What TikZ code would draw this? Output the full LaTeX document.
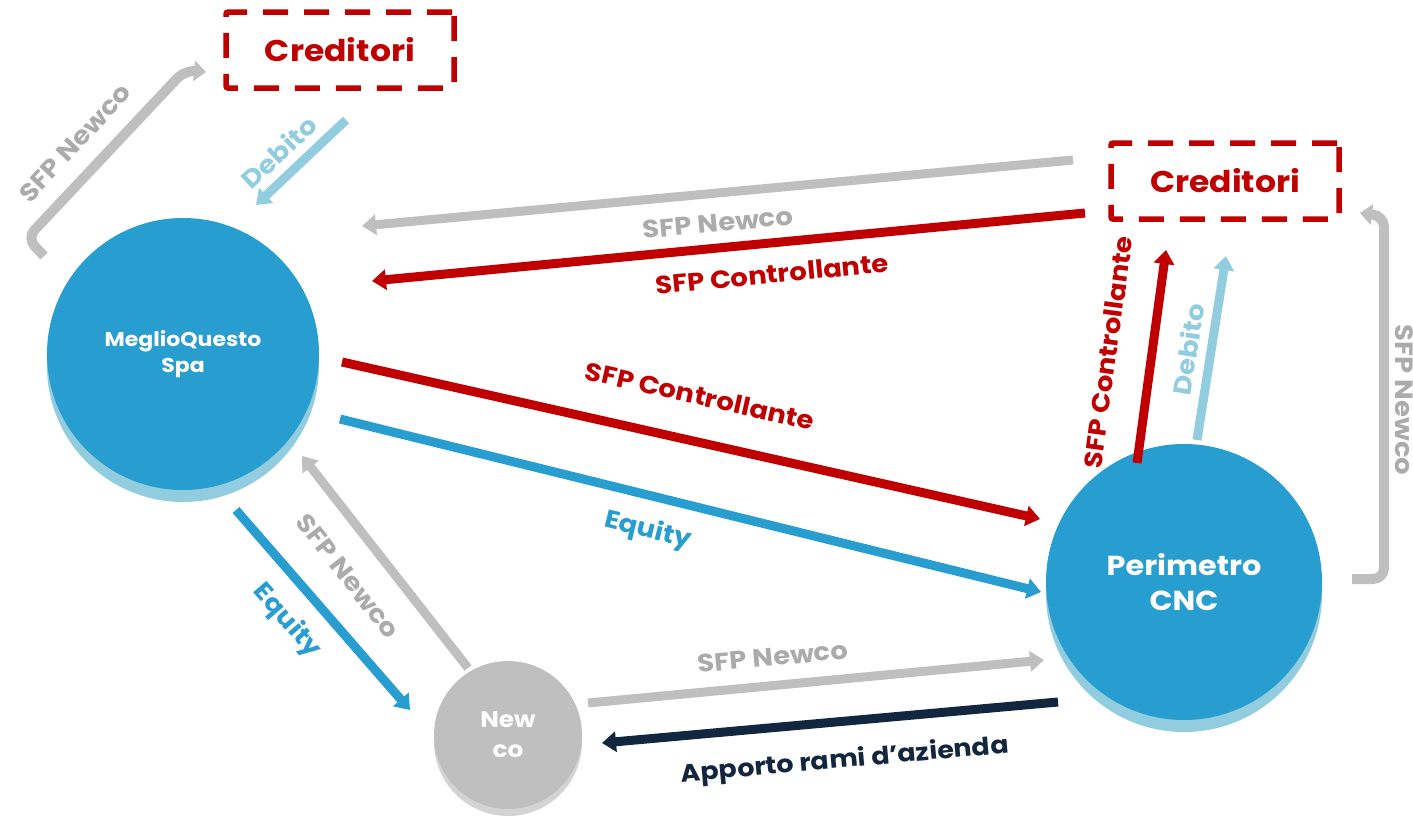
\documentclass[tikz,border=0pt]{standalone}
\usepackage{fontspec}
\setmainfont{Poppins}[FakeStretch=1.1]
\usetikzlibrary{arrows.meta}
\definecolor{cblue}{HTML}{289DCF}
\definecolor{clight}{HTML}{92CDDF}
\definecolor{cgray}{HTML}{BFBFBF}
\definecolor{cgraytxt}{HTML}{ABABAB}
\definecolor{cgrayshadow}{HTML}{D4D4D4}
\definecolor{cred}{HTML}{C00000}
\definecolor{cnavy}{HTML}{13263F}
\begin{document}
\begin{tikzpicture}[x=1pt,y=-1pt,
  arr/.style={line width=9pt,-{Triangle[width=20pt,length=14pt]}},
  bent/.style={line width=10pt,rounded corners=11pt,-{Triangle[width=20pt,length=12pt]}},
  lbl/.style={font=\bfseries\fontsize{25}{25}\selectfont},
  big/.style={circle,fill=cblue,text=white,align=center,inner sep=0pt},
  shadowc/.style={circle,fill=clight,inner sep=0pt},
  credbox/.style={draw=cred,line width=5.5pt,rounded corners=2pt,dash pattern=on 25pt off 16pt,minimum width=228pt,minimum height=76pt,text=cred,font=\bfseries\fontsize{30}{30}\selectfont}]
\useasboundingbox (0,0) rectangle (1413,817);
% circles
\node[shadowc,minimum size=272pt] (mqs) at (183,366) {};
\node[big,minimum size=272pt,font=\bfseries\fontsize{20}{26}\selectfont] (mq) at (183,354) {MeglioQuesto\\Spa};
\node[shadowc,minimum size=276pt] (pcs) at (1184,594) {};
\node[big,minimum size=276pt,font=\bfseries\fontsize{27.5}{35}\selectfont] (pc) at (1184,582) {Perimetro\\CNC};
\node[circle,fill=cgrayshadow,inner sep=0pt,minimum size=148pt] (ncs) at (508,742) {};
\node[circle,fill=cgray,inner sep=0pt,minimum size=148pt,text=white,align=center,font=\bfseries\fontsize{22.5}{30}\selectfont] (nc) at (508,735) {New\\co};
% boxes
\node[credbox] (c1) at (340,50) {Creditori};
\node[credbox] (c2) at (1225,181) {Creditori};
% coordinates
\coordinate (d1s) at (346,120); \coordinate (d1e) at (256,205);
\coordinate (b1a) at (44,256); \coordinate (b1b) at (27,238); \coordinate (b1c) at (185,70); \coordinate (b1d) at (206,72);
\coordinate (g1s) at (1073,160); \coordinate (g1e) at (362,226);
\coordinate (r1s) at (1085,213); \coordinate (r1e) at (372,281);
\coordinate (r2s) at (342,362); \coordinate (r2e) at (1040,519);
\coordinate (e1s) at (340,419); \coordinate (e1e) at (1041,592);
\coordinate (e2s) at (236,510); \coordinate (e2e) at (410,710);
\coordinate (g2s) at (468,668); \coordinate (g2e) at (302,456);
\coordinate (g3s) at (588,703); \coordinate (g3e) at (1044,660);
\coordinate (n1s) at (1058,702); \coordinate (n1e) at (602,743);
\coordinate (r3s) at (1137,463); \coordinate (r3e) at (1166,250);
\coordinate (d2s) at (1197,440); \coordinate (d2e) at (1226,256);
\coordinate (b2a) at (1352,579); \coordinate (b2b) at (1384,579); \coordinate (b2c) at (1384,216); \coordinate (b2d) at (1360,213);
% arrows
\draw[arr,clight] (d1s) -- (d1e);
\draw[bent,cgray] (b1a) -- (b1b) -- (b1c) -- (b1d);
\draw[arr,cgray] (g1s) -- (g1e);
\draw[arr,cred] (r1s) -- (r1e);
\draw[arr,cred] (r2s) -- (r2e);
\draw[arr,cblue] (e1s) -- (e1e);
\draw[arr,cblue] (e2s) -- (e2e);
\draw[arr,cgray] (g2s) -- (g2e);
\draw[arr,cgray] (g3s) -- (g3e);
\draw[arr,cnavy] (n1s) -- (n1e);
\draw[arr,cred] (r3s) -- (r3e);
\draw[arr,clight] (d2s) -- (d2e);
\draw[bent,cgray] (b2a) -- (b2b) -- (b2c) -- (b2d);
% labels
\node[lbl,text=clight,rotate=43] (ld1) at (279,152) {Debito};
\node[lbl,text=cgraytxt,rotate=47] (lb1) at (75,143) {SFP Newco};
\node[lbl,text=cgraytxt,rotate=5.3] (lg1) at (718,223) {SFP Newco};
\node[lbl,text=cred,rotate=5.5] (lr1) at (772,274) {SFP Controllante};
\node[lbl,text=cred,rotate=-12.7] (lr2) at (700,396) {SFP Controllante};
\node[lbl,text=cblue,rotate=-13.9] (le1) at (648,531) {Equity};
\node[lbl,text=cblue,rotate=-49] (le2) at (287,621) {Equity};
\node[lbl,text=cgraytxt,rotate=-52] (lg2) at (348,576) {SFP Newco};
\node[lbl,text=cgraytxt,rotate=5.4] (lg3) at (773,657) {SFP Newco};
\node[lbl,text=cnavy,rotate=5.1,font=\bfseries\fontsize{24.5}{25}\selectfont] (ln1) at (845,761) {Apporto rami d’azienda};
\node[lbl,text=cred,rotate=82.2] (lr3) at (1108,352) {SFP Controllante};
\node[lbl,text=clight,rotate=81] (ld2) at (1188,349) {Debito};
\node[lbl,text=cgraytxt,rotate=-90] (lb2) at (1404,400) {SFP Newco};
\end{tikzpicture}
\end{document}
